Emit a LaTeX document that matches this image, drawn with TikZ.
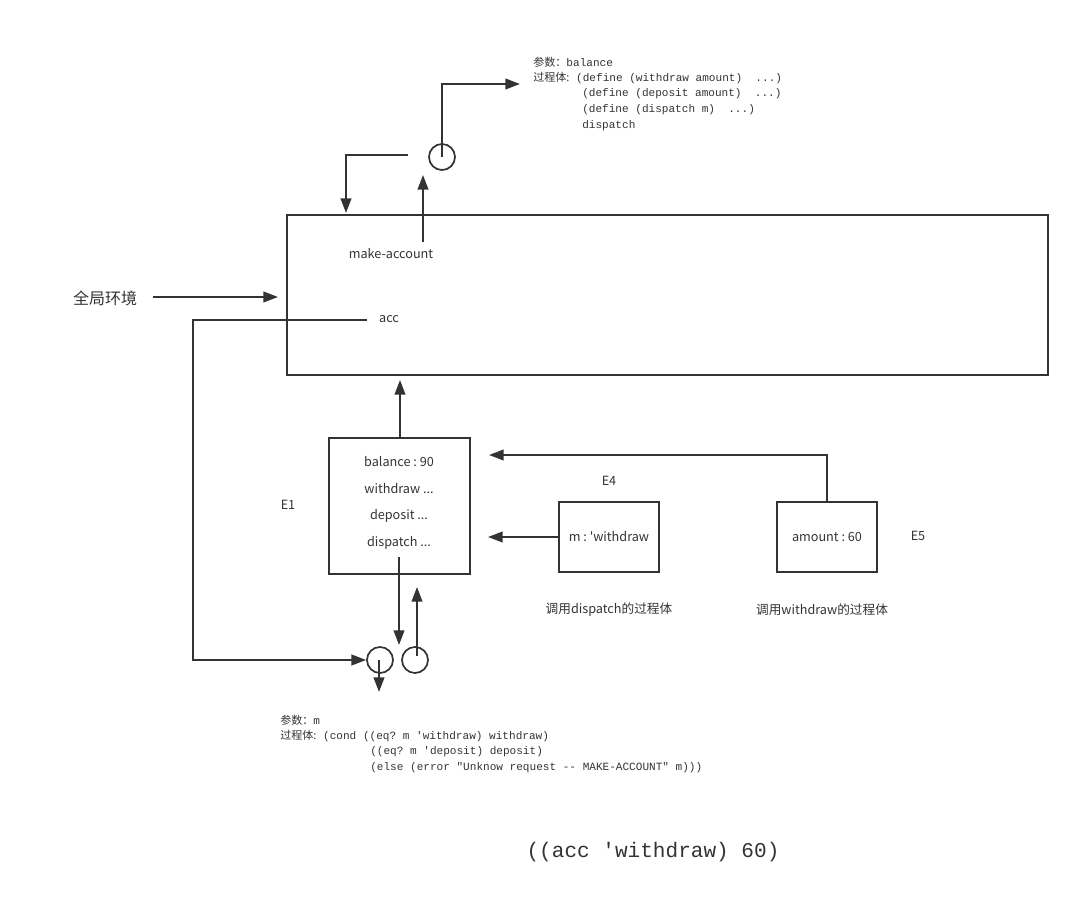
\documentclass[tikz,border=0pt]{standalone}
\usepackage{fontspec}
\setmainfont{Noto Sans CJK SC}
\newfontfamily\cjk{Noto Sans CJK SC}
\newfontfamily\monof{Liberation Mono}
\usetikzlibrary{arrows.meta}
\definecolor{ink}{HTML}{333333}
\frenchspacing
\tikzset{
  ln/.style={draw=ink,line width=1.5pt},
  arr/.style={ln,-{Triangle[length=11pt,width=8pt]}},
  frame/.style={draw=ink,line width=1.5pt,inner sep=0pt},
  lbl/.style={text=ink,inner sep=0pt,font=\fontsize{9.5}{11}\selectfont},
  code/.style={text=ink,inner sep=0pt,anchor=west,font=\monof\fontsize{8.3}{10}\selectfont},
  ring/.style={circle,draw=ink,line width=1.3pt,minimum size=19.5pt,inner sep=0pt},
}
\begin{document}
\begin{tikzpicture}[x=0.75pt,y=-0.75pt]
\useasboundingbox (0,0) rectangle (1080,898);
% global frame
\node[frame,minimum width=571pt,minimum height=120pt] (glob) at (667.5,295) {};
\node[lbl] (mk) at (391,254) {make-account};
\node[lbl] (acc) at (389,319) {acc};
\node[lbl,font=\fontsize{12}{14}\selectfont] (ge) at (105,298) {全局环境};
% top procedure object
\node[ring] (c1) at (442,157) {};
\coordinate (c1in) at (408,155);
\coordinate (mkup) at (423,175);
\coordinate (gtop) at (346,213);
\node[code] (p1) at (533,62) {{\cjk 参数：}balance};
\node[code] (p2) at (533,78) {{\cjk 过程体:} (define (withdraw amount)\ \ ...)};
\node[code] (p3) at (582,94) {(define (deposit amount)\ \ ...)};
\node[code] (p4) at (582,110) {(define (dispatch m)\ \ ...)};
\node[code] (p5) at (582,126) {dispatch};
\coordinate (p2w) at (520,84);
\draw[arr] (c1.center) -- (442,84) -- (p2w);
\draw[arr] (423,242) -- (mkup);
\draw[arr] (c1in) -- (346,155) -- (gtop);
% global env arrow
\coordinate (ge1) at (153,297);
\coordinate (ge2) at (278,297);
\draw[arr] (ge1) -- (ge2);
% E1
\node[frame,minimum width=105.75pt,minimum height=102pt] (e1) at (399.5,506) {};
\node[lbl] (b1) at (399,462) {balance : 90};
\node[lbl] (b2) at (399,489) {withdraw ...};
\node[lbl] (b3) at (399,516) {deposit ...};
\node[lbl] (b4) at (399,543) {dispatch ...};
\node[lbl] (E1) at (288,505) {E1};
\coordinate (gbot) at (400,380);
\draw[arr] (e1.north -| 400,0) -- (gbot);
% lower procedure object
\node[ring] (c2) at (380,660) {};
\node[ring] (c3) at (415,660) {};
\coordinate (acc0) at (367,320);
\draw[arr] (acc0) -- (193,320) -- (193,660) -- (c2.west);
\coordinate (dsp) at (399,557);
\coordinate (dspe) at (399,645);
\draw[arr] (dsp) -- (dspe);
\coordinate (c2d) at (379,692);
\draw[arr] (379,660) -- (c2d);
\coordinate (c3u) at (417,587);
\draw[arr] (417,656) -- (c3u);
\node[code] (q1) at (280,720) {{\cjk 参数：}m};
\node[code] (q2) at (280,736) {{\cjk 过程体:} (cond ((eq? m 'withdraw) withdraw)};
\node[code] (q3) at (370,752) {((eq? m 'deposit) deposit)};
\node[code] (q4) at (370,768) {(else (error "Unknow request -- MAKE-ACCOUNT" m)))};
% E4
\node[frame,minimum width=75pt,minimum height=52.5pt] (e4) at (609,537) {};
\node[lbl] (m4) at (609,537) {m : \textquotesingle withdraw};
\node[lbl] (E4) at (609,481) {E4};
\coordinate (e4t) at (488,537);
\draw[arr] (e4.west) -- (e4t);
\node[lbl] (d4) at (609,610) {调用dispatch的过程体};
% E5
\node[frame,minimum width=75pt,minimum height=52.5pt] (e5) at (827,537) {};
\node[lbl] (m5) at (827,537) {amount : 60};
\node[lbl] (E5) at (918,536) {E5};
\coordinate (e5t) at (489,455);
\draw[arr] (e5.north) -- (827,455) -- (e5t);
\node[lbl] (d5) at (822,610) {调用withdraw的过程体};
% bottom expression
\node[text=ink,inner sep=0pt,font=\monof\fontsize{15.8}{18}\selectfont] (ex) at (653,852) {((acc \textquotesingle withdraw) 60)};
\end{tikzpicture}
\end{document}
